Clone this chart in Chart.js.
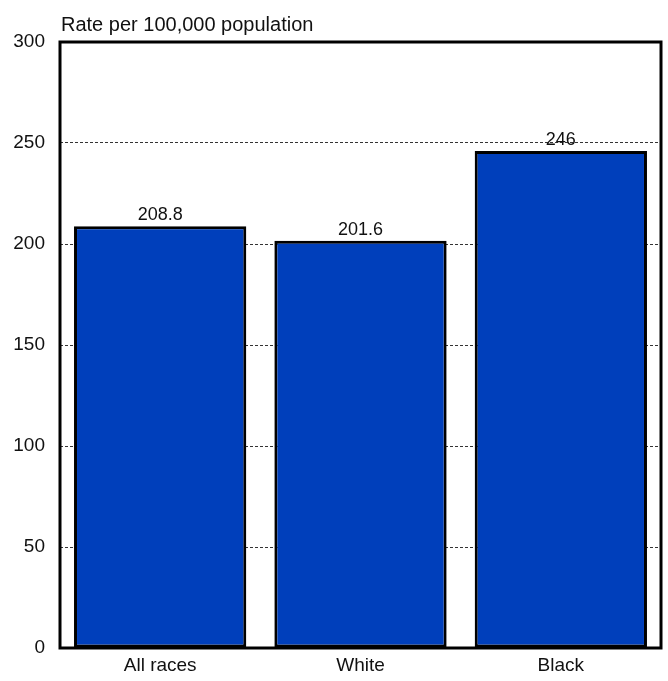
<!DOCTYPE html>
<html>
<head>
<meta charset="utf-8">
<script src="https://cdn.jsdelivr.net/npm/chart.js@4"></script>
<style>
  html, body { margin: 0; padding: 0; background: #fff; }
  #wrap { width: 668px; height: 681px; }
</style>
</head>
<body>
<div id="wrap"><canvas id="chart"></canvas></div>
<script>
const categories = ["All races", "White", "Black"];
const rates = [208.8, 201.6, 246];
const rateLabels = ["208.8", "201.6", "246"];
const yTitle = "Rate per 100,000 population";

const fontFamily = "'Liberation Sans', Arial, sans-serif";

// frame around the plot + axis title in the top-left corner
const framePlugin = {
  id: "frame",
  afterDraw(chart) {
    const { ctx, chartArea } = chart;
    ctx.save();
    ctx.strokeStyle = "#000";
    ctx.lineWidth = 3;
    ctx.strokeRect(chartArea.left, chartArea.top, chartArea.right - chartArea.left, chartArea.bottom - chartArea.top);
    ctx.fillStyle = "#111";
    ctx.font = "20px " + fontFamily;
    ctx.textAlign = "left";
    ctx.textBaseline = "alphabetic";
    ctx.fillText(yTitle, chartArea.left + 1, chartArea.top - 11);
    ctx.restore();
  },
};

// value labels above each bar
const valueLabels = {
  id: "valueLabels",
  afterDatasetsDraw(chart) {
    const { ctx } = chart;
    const meta = chart.getDatasetMeta(0);
    ctx.save();
    ctx.fillStyle = "#111";
    ctx.font = "18px " + fontFamily;
    ctx.textAlign = "center";
    ctx.textBaseline = "alphabetic";
    meta.data.forEach((bar, i) => {
      ctx.fillText(rateLabels[i], bar.x, bar.y - 6);
    });
    ctx.restore();
  },
};

new Chart(document.getElementById("chart"), {
  type: "bar",
  data: {
    labels: categories,
    datasets: [
      {
        data: rates,
        backgroundColor: "#003fbb",
        borderColor: "#000",
        borderWidth: 3,
        borderSkipped: false,
        barPercentage: 0.86,
        categoryPercentage: 1,
      },
    ],
  },
  options: {
    responsive: true,
    maintainAspectRatio: false,
    animation: false,
    layout: { padding: { top: 42, right: 7, left: 0, bottom: 0 } },
    plugins: {
      legend: { display: false },
      tooltip: { enabled: false },
    },
    scales: {
      x: {
        afterFit: (scale) => { scale.height = 33; },
        grid: { display: false, drawTicks: false },
        border: { display: false },
        ticks: {
          color: "#111",
          padding: 6,
          font: { family: fontFamily, size: 19 },
        },
      },
      y: {
        min: 0,
        max: 300,
        afterFit: (scale) => { scale.width = 60; },
        grid: { color: "#333", lineWidth: 1, drawTicks: false },
        border: { display: false, dash: [3, 2] },
        ticks: {
          stepSize: 50,
          color: "#111",
          padding: 15,
          font: { family: fontFamily, size: 19 },
        },
      },
    },
  },
  plugins: [framePlugin, valueLabels],
});
</script>
</body>
</html>
